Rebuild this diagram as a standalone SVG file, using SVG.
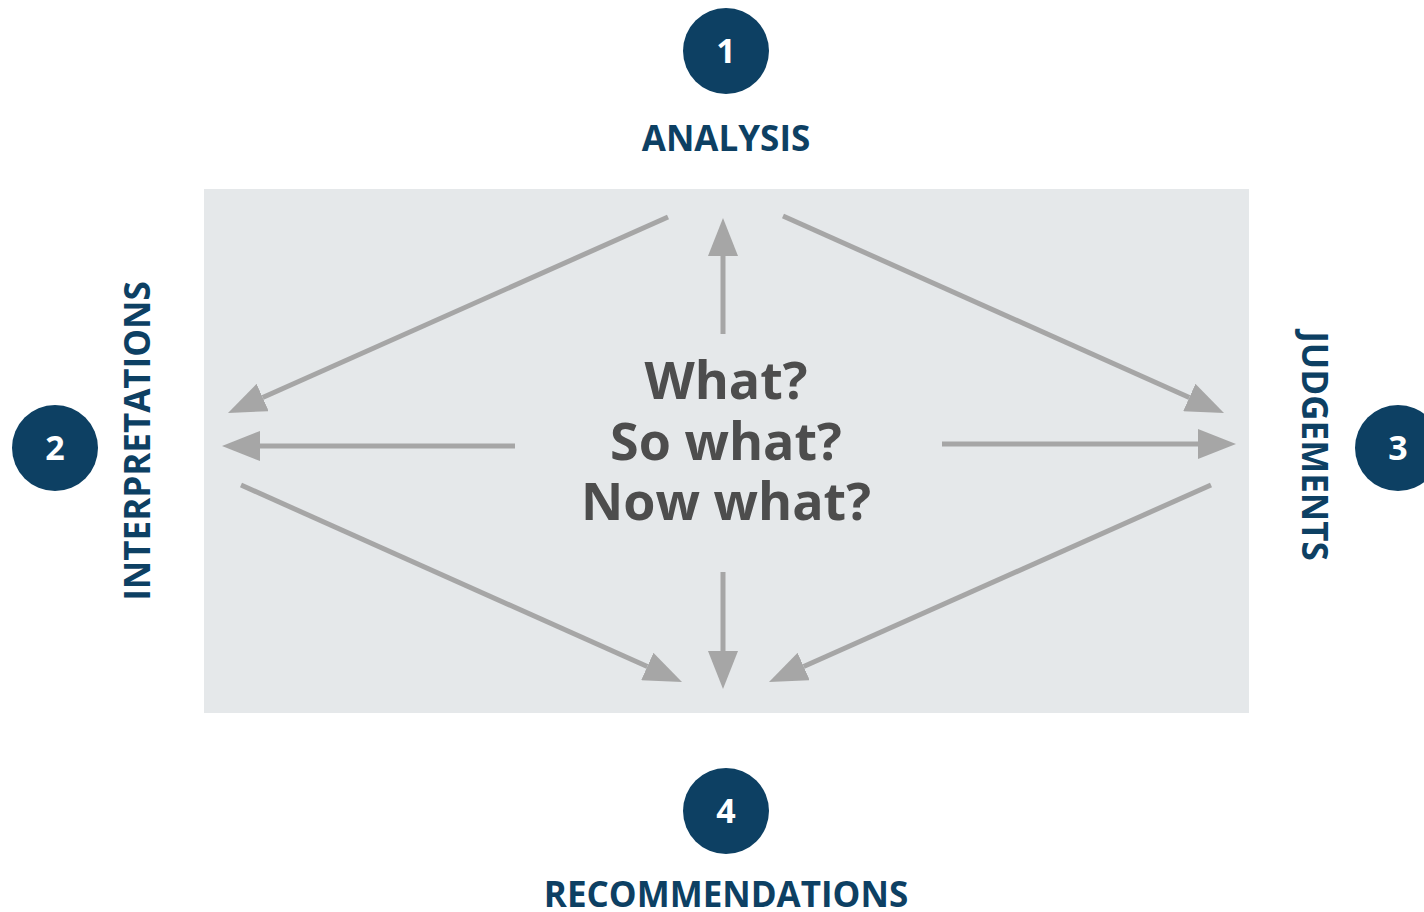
<svg xmlns="http://www.w3.org/2000/svg" width="1424" height="912" viewBox="0 0 1424 912">
<style>
.circ{fill:#0d4063}
.num{fill:#ffffff;font-family:"Open Sans","Liberation Sans",sans-serif;font-weight:bold;font-size:34px;text-anchor:middle}
.lbl{fill:#0d4063;font-family:"Open Sans","Liberation Sans",sans-serif;font-weight:bold;font-size:35px;text-anchor:middle}
.mid{fill:#4d4d4d;font-family:"Open Sans","Liberation Sans",sans-serif;font-weight:bold;font-size:52px;text-anchor:middle}
.arr{stroke:#a6a6a6;stroke-width:5;fill:none;marker-end:url(#ah)}
</style>
<defs>
<marker id="ah" viewBox="0 0 38 30" markerWidth="38" markerHeight="30" refX="0" refY="15" orient="auto" markerUnits="userSpaceOnUse">
<path d="M0,0 L38,15 L0,30 z" fill="#a6a6a6"/>
</marker>
</defs>
<rect width="1424" height="912" fill="#ffffff"/>
<g id="panel">
<rect x="204" y="189" width="1045" height="524" fill="#e5e8ea"/>
<text class="mid" x="726" y="399">What?</text>
<text class="mid" x="726" y="460">So what?</text>
<text class="mid" x="726" y="520">Now what?</text>
</g>
<g id="connectors">
<line class="arr" x1="723" y1="334" x2="723" y2="256"/>
<line class="arr" x1="668" y1="217" x2="262.7" y2="397.5"/>
<line class="arr" x1="783" y1="216" x2="1189.3" y2="397.5"/>
<line class="arr" x1="515" y1="446" x2="260" y2="446"/>
<line class="arr" x1="942" y1="444" x2="1198" y2="444"/>
<line class="arr" x1="241" y1="485" x2="647.3" y2="666.5"/>
<line class="arr" x1="1211" y1="485" x2="803.7" y2="666.5"/>
<line class="arr" x1="723" y1="572" x2="723" y2="651"/>
</g>
<g id="node1">
<circle class="circ" cx="726" cy="51" r="43"/>
<text class="num" x="726" y="63">1</text>
<text class="lbl" x="726" y="151">ANALYSIS</text>
</g>
<g id="node2">
<circle class="circ" cx="55" cy="448" r="43"/>
<text class="num" x="55" y="460">2</text>
<text class="lbl" transform="translate(150,441) rotate(-90)" x="0" y="0">INTERPRETATIONS</text>
</g>
<g id="node3">
<circle class="circ" cx="1398" cy="448" r="43"/>
<text class="num" x="1398" y="460">3</text>
<text class="lbl" transform="translate(1302,446) rotate(90)" x="0" y="0">JUDGEMENTS</text>
</g>
<g id="node4">
<circle class="circ" cx="726" cy="811" r="43"/>
<text class="num" x="726" y="823">4</text>
<text class="lbl" x="726" y="907">RECOMMENDATIONS</text>
</g>
</svg>
